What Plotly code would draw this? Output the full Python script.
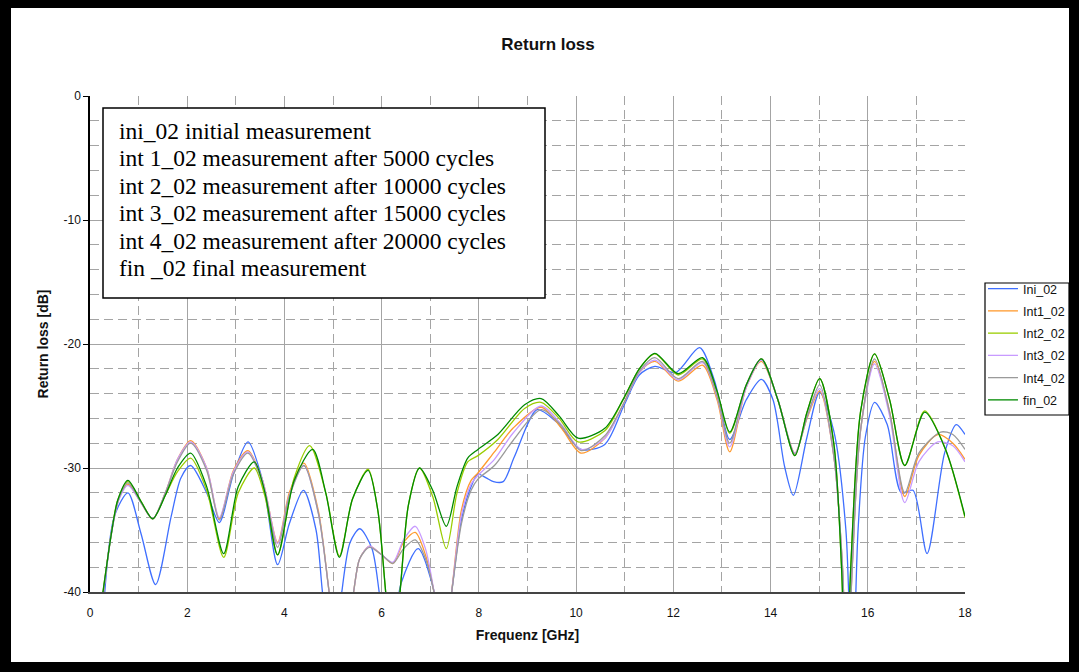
import plotly.graph_objects as go

# ---------------- data ----------------
series_names = ["Ini_02", "Int1_02", "Int2_02", "Int3_02", "Int4_02", "fin_02"]
series_colors = ["#3F6FFF", "#FF9A2E", "#9ACD00", "#C89BFF", "#9A9A9A", "#008A00"]

freq_ini = [0.30, 0.50, 0.78, 1.05, 1.35, 1.67, 1.87, 2.07, 2.40, 2.66, 2.95, 3.25, 3.55, 3.86, 4.10,
            4.39, 4.65, 4.79, 5.00, 5.17, 5.35, 5.55, 5.80, 5.96, 6.15, 6.40, 6.75, 7.10, 7.25, 7.43,
            7.64, 7.84, 7.98, 8.15, 8.30, 8.50, 8.73, 9.20, 9.60, 10.10, 10.59, 10.99, 11.30, 11.62,
            12.05, 12.54, 12.85, 13.16, 13.50, 13.81, 14.05, 14.29, 14.47, 14.75, 15.01, 15.30, 15.55,
            15.68, 15.80, 15.95, 16.14, 16.40, 16.69, 16.93, 17.22, 17.58, 17.82, 18.00]
rl_ini = [-40.2, -33.9, -32.0, -35.3, -39.4, -33.9, -30.8, -29.8, -32.0, -34.4, -30.5, -27.9, -31.0, -37.8, -34.5,
          -31.8, -35.0, -40.3, -46.0, -40.3, -36.0, -34.9, -36.5, -40.3, -45.0, -39.3, -36.5, -40.3, -45.0, -40.3,
          -34.2, -31.5, -30.5, -30.8, -31.1, -31.1, -29.1, -25.3, -26.3, -28.5, -28.1, -24.9, -22.5, -21.8,
          -22.3, -20.3, -23.0, -27.7, -24.5, -22.85, -24.5, -29.9, -32.2, -27.5, -23.9, -27.0, -35.0,
          -48.0, -35.0, -27.5, -24.7, -26.5, -32.0, -31.8, -36.9, -28.8, -26.5, -27.3]

freq_int1 = [0.27, 0.45, 0.60, 0.78, 1.05, 1.29, 1.55, 1.80, 2.07, 2.40, 2.66, 2.95, 3.25, 3.55, 3.86,
             4.10, 4.40, 4.70, 4.93, 5.15, 5.41, 5.55, 5.75, 6.00, 6.23, 6.45, 6.69, 6.90, 7.09, 7.25,
             7.43, 7.64, 7.84, 7.98, 8.32, 8.70, 9.28, 9.70, 10.10, 10.59, 10.99, 11.30, 11.62, 12.10,
             12.60, 12.90, 13.16, 13.50, 13.81, 14.15, 14.50, 14.75, 15.01, 15.30, 15.48, 15.57, 15.68,
             15.85, 16.14, 16.45, 16.76, 17.05, 17.44, 17.75, 18.00]
rl_int1 = [-40.2, -35.0, -32.4, -31.3, -32.8, -34.1, -32.0, -29.3, -27.8, -30.0, -34.1, -30.2, -28.6, -31.0, -36.0,
           -32.0, -29.6, -33.5, -40.3, -46.0, -40.3, -37.3, -36.3, -37.0, -37.7, -36.0, -35.2, -37.0, -40.3, -45.0,
           -40.3, -33.4, -31.0, -30.4, -28.7, -26.8, -25.1, -26.8, -28.8, -27.6, -24.7, -22.3, -21.4, -23.0,
           -21.7, -24.5, -28.7, -23.5, -21.4, -24.5, -28.8, -26.0, -23.8, -29.0, -38.0, -48.0, -38.0,
           -27.0, -21.4, -25.5, -32.3, -29.0, -27.3, -28.0, -29.3]

freq_int2 = [0.26, 0.44, 0.57, 0.78, 1.05, 1.29, 1.55, 1.80, 2.07, 2.40, 2.75, 3.05, 3.38, 3.60, 3.86,
             4.20, 4.52, 4.85, 5.13, 5.40, 5.72, 5.92, 6.09, 6.22, 6.37, 6.55, 6.78, 7.05, 7.33, 7.55,
             7.77, 7.98, 8.39, 8.94, 9.28, 9.65, 10.04, 10.59, 10.99, 11.30, 11.62, 12.10, 12.60, 12.90,
             13.16, 13.50, 13.81, 14.15, 14.50, 14.75, 15.01, 15.30, 15.46, 15.55, 15.65, 15.85, 16.14,
             16.45, 16.76, 17.17, 17.60, 18.00]
rl_int2 = [-40.2, -35.3, -32.6, -31.1, -32.7, -34.1, -32.2, -30.3, -29.2, -31.8, -37.2, -32.0, -30.0, -32.3, -37.0,
           -30.8, -28.2, -32.0, -37.1, -32.5, -30.1, -33.4, -40.3, -45.0, -40.3, -33.0, -30.0, -32.3, -36.5, -32.0,
           -29.5, -29.0, -27.7, -25.2, -24.7, -26.0, -27.9, -27.0, -24.3, -22.0, -20.8, -22.5, -21.2, -23.9,
           -27.2, -23.3, -21.2, -24.5, -29.0, -25.5, -22.8, -28.0, -38.0, -48.0, -38.0, -25.5, -20.8,
           -24.5, -29.8, -25.4, -28.5, -34.0]

freq_int3 = freq_int1
rl_int3 = [-40.2, -35.1, -32.5, -31.4, -32.8, -34.1, -32.0, -29.3, -27.9, -30.0, -34.0, -30.3, -28.7, -31.0, -36.1,
           -32.2, -29.8, -33.7, -40.3, -46.0, -40.3, -37.3, -36.3, -37.0, -37.6, -35.8, -34.7, -36.5, -40.3, -45.0,
           -40.3, -33.8, -31.3, -30.6, -29.3, -27.2, -25.0, -26.5, -28.5, -27.6, -24.7, -22.3, -21.3, -22.9,
           -21.5, -24.3, -28.3, -23.5, -21.3, -24.5, -28.8, -25.9, -23.6, -29.0, -38.0, -48.0, -38.0,
           -27.0, -21.6, -25.8, -32.8, -29.5, -27.9, -28.2, -29.5]

freq_int4 = [0.27, 0.45, 0.60, 0.78, 1.05, 1.29, 1.55, 1.80, 2.07, 2.40, 2.66, 2.95, 3.25, 3.55, 3.86,
             4.10, 4.40, 4.70, 4.93, 5.15, 5.41, 5.55, 5.75, 6.00, 6.23, 6.45, 6.69, 6.90, 7.09, 7.25,
             7.43, 7.64, 7.84, 7.98, 8.32, 8.70, 9.28, 9.70, 10.10, 10.59, 10.99, 11.30, 11.62, 12.10,
             12.60, 12.90, 13.16, 13.50, 13.81, 14.15, 14.50, 14.75, 15.01, 15.30, 15.48, 15.57, 15.68,
             15.85, 16.14, 16.45, 16.76, 17.05, 17.50, 17.75, 18.00]
rl_int4 = [-40.2, -35.0, -32.4, -31.2, -32.8, -34.1, -32.0, -29.5, -28.0, -30.2, -34.2, -30.5, -28.8, -31.2, -36.4,
           -32.3, -29.8, -33.7, -40.3, -46.0, -40.3, -37.3, -36.4, -37.0, -37.7, -36.5, -35.8, -37.3, -40.3, -45.0,
           -40.3, -34.5, -31.8, -30.9, -29.8, -27.8, -25.3, -26.6, -28.6, -27.4, -24.7, -22.2, -21.1, -22.8,
           -21.4, -24.2, -28.0, -23.3, -21.2, -24.5, -28.9, -25.9, -23.3, -29.0, -38.0, -48.0, -38.0,
           -27.0, -21.2, -25.5, -32.0, -28.8, -27.1, -27.3, -28.5]

freq_fin = [0.26, 0.44, 0.57, 0.78, 1.05, 1.29, 1.55, 1.80, 2.07, 2.40, 2.75, 3.05, 3.38, 3.60, 3.86,
            4.20, 4.58, 4.85, 5.13, 5.40, 5.72, 5.92, 6.09, 6.22, 6.37, 6.55, 6.78, 7.05, 7.33, 7.55,
            7.77, 7.98, 8.39, 8.94, 9.28, 9.65, 10.04, 10.59, 10.99, 11.30, 11.62, 12.10, 12.60, 12.90,
            13.16, 13.50, 13.81, 14.15, 14.50, 14.75, 15.01, 15.30, 15.46, 15.55, 15.65, 15.85, 16.14,
            16.45, 16.76, 17.17, 17.60, 18.00]
rl_fin = [-40.2, -35.3, -32.6, -31.0, -32.7, -34.1, -32.2, -30.0, -28.8, -31.5, -36.9, -31.5, -29.5, -32.0, -37.0,
          -31.0, -28.5, -32.0, -37.2, -32.5, -30.2, -33.4, -40.3, -45.0, -40.3, -33.0, -30.0, -31.8, -34.7, -31.5,
          -29.2, -28.5, -27.3, -24.9, -24.4, -25.8, -27.6, -26.8, -24.3, -22.0, -20.75, -22.4, -21.1, -23.8,
          -27.1, -23.3, -21.2, -24.5, -29.0, -25.5, -22.8, -28.0, -38.0, -48.0, -38.0, -25.5, -20.8,
          -24.5, -29.8, -25.5, -28.5, -33.9]

all_freq = [freq_ini, freq_int1, freq_int2, freq_int3, freq_int4, freq_fin]
all_rl = [rl_ini, rl_int1, rl_int2, rl_int3, rl_int4, rl_fin]

y_tickvals = [0, -10, -20, -30, -40]
y_ticktext = ["0", "-10", "-20", "-30", "-40"]

note_lines = [
    "ini_02 initial measurement",
    "int 1_02 measurement after 5000 cycles",
    "int 2_02 measurement after 10000 cycles",
    "int 3_02 measurement after 15000 cycles",
    "int 4_02 measurement after 20000 cycles",
    "fin _02 final measurement",
]

# ---------------- layout geometry (pixels) ----------------
W, H = 1079, 672
L, R, T, B = 90, 114, 96, 80
PW, PH = W - L - R, H - T - B


def px(x):
    return (x - L) / PW


def py(y):
    return (H - B - y) / PH


SANS = "Liberation Sans, Arial, sans-serif"
SERIF = "Liberation Serif, Times New Roman, serif"
GRID = "#A4A4A4"

fig = go.Figure()
for name, col, fx, fy in zip(series_names, series_colors, all_freq, all_rl):
    fig.add_trace(go.Scatter(
        x=fx, y=fy, name=name, mode="lines", legendgroup=name,
        line=dict(color=col, width=1.3, shape="spline", smoothing=0.8),
    ))

shapes = []
# outer black frame
for x0, y0, x1, y1 in [(0, 0, 11, H), (0, 0, W, 8), (W - 10, 0, W, H), (0, H - 10, W, H)]:
    shapes.append(dict(type="rect", xref="paper", yref="paper",
                       x0=px(x0), x1=px(x1), y0=py(y0), y1=py(y1),
                       fillcolor="black", line=dict(width=0), layer="above"))
# note box
shapes.append(dict(type="rect", xref="paper", yref="paper",
                   x0=px(103), x1=px(545), y0=py(108), y1=py(298),
                   fillcolor="white", line=dict(color="black", width=1.5), layer="above"))
# legend box
shapes.append(dict(type="rect", xref="paper", yref="paper",
                   x0=px(985), x1=px(1069), y0=py(283), y1=py(415),
                   fillcolor="rgba(0,0,0,0)", line=dict(color="black", width=1.2), layer="above"))

annotations = []
for i, line in enumerate(note_lines):
    annotations.append(dict(
        xref="paper", yref="paper", x=px(117), y=py(131 + 27.4 * i), xanchor="left", yanchor="middle",
        text=line, showarrow=False, font=dict(family=SERIF, size=23.5, color="black")))

fig.update_layout(
    width=W, height=H,
    margin=dict(l=L, r=R, t=T, b=B, autoexpand=False),
    paper_bgcolor="white", plot_bgcolor="white",
    font=dict(family=SANS, size=12, color="#111"),
    title=dict(text="<b>Return loss</b>", x=548 / W, xref="container", xanchor="center",
               y=1 - 44 / H, yref="container", yanchor="middle",
               font=dict(family=SANS, size=17, color="#111")),
    showlegend=True,
    legend=dict(x=px(983), y=py(274), xanchor="left", yanchor="top",
                borderwidth=0, bgcolor="rgba(0,0,0,0)", tracegroupgap=3,
                font=dict(family=SANS, size=12.5, color="#111"), itemwidth=30),
    shapes=shapes,
    annotations=annotations,
)

fig.update_xaxes(
    range=[0, 18], tick0=0, dtick=2, showgrid=True, gridcolor=GRID, gridwidth=1.4,
    minor=dict(dtick=1, showgrid=True, gridcolor=GRID, griddash="9px,5px", gridwidth=1.3),
    showline=True, linecolor="#444", linewidth=1.5, zeroline=False,
    ticks="", ticklabelstandoff=9, tickfont=dict(family=SANS, size=12, color="#111"),
    title=dict(text="<b>Frequenz [GHz]</b>", standoff=11, font=dict(family=SANS, size=14, color="#111")),
)
fig.update_yaxes(
    range=[-40, 0], tickvals=y_tickvals, ticktext=y_ticktext, showgrid=True, gridcolor=GRID, gridwidth=1.4,
    minor=dict(dtick=2, showgrid=True, gridcolor=GRID, griddash="9px,5px", gridwidth=1.3),
    showline=True, linecolor="black", linewidth=1.5, zeroline=False,
    ticks="outside", ticklen=5, tickcolor="black", tickwidth=1.2,
    tickfont=dict(family=SANS, size=12, color="#111"),
    title=dict(text="<b>Return loss [dB]</b>", standoff=12, font=dict(family=SANS, size=14, color="#111")),
)

fig.write_html("out.html", config={"displayModeBar": False},
               post_script="document.body.style.margin='0';document.body.style.overflow='hidden';")
